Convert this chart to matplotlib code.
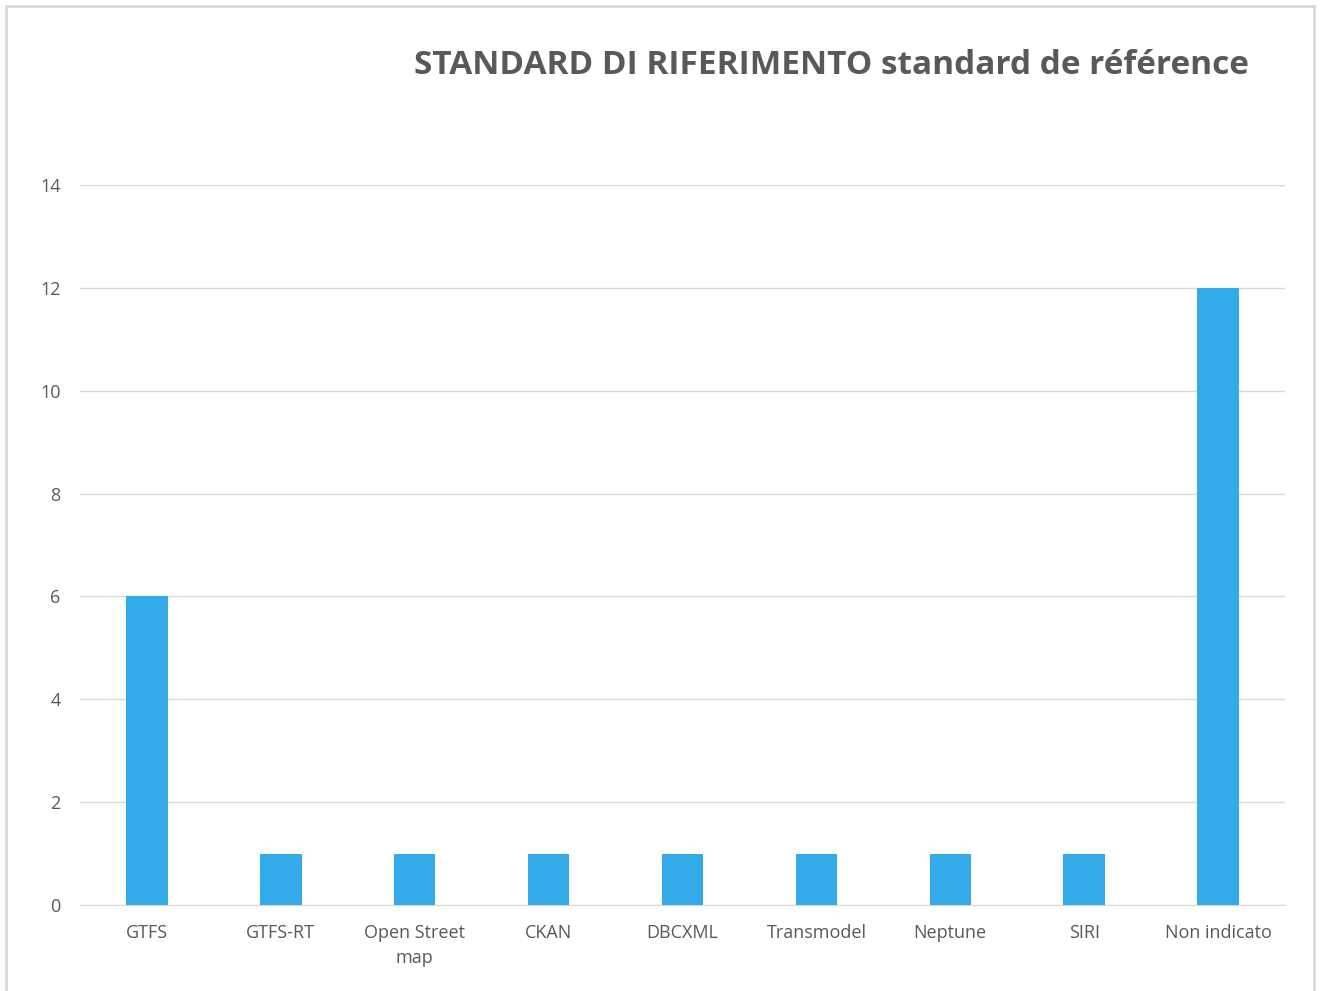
import matplotlib
matplotlib.use("Agg")
import matplotlib.pyplot as plt
from matplotlib.lines import Line2D

categories = ["GTFS", "GTFS-RT", "Open Street\nmap", "CKAN", "DBCXML",
              "Transmodel", "Neptune", "SIRI", "Non indicato"]
values = [6, 1, 1, 1, 1, 1, 1, 1, 12]
yticks = [0, 2, 4, 6, 8, 10, 12, 14]

plt.rcParams['font.family'] = ['Open Sans', 'DejaVu Sans']
txt = '#595959'

fig = plt.figure(figsize=(13.2, 9.91), dpi=100)
ax = fig.add_axes([0.0606, 0.0868, 0.9129, 0.7265])

ax.bar(range(len(categories)), values, width=0.31, color='#32ABE8', zorder=3)
ax.set_xlim(-0.5, len(categories) - 0.5)
ax.set_ylim(0, 14)
ax.set_yticks(yticks)
ax.set_xticks(range(len(categories)))
ax.set_xticklabels(categories, fontsize=13, color=txt, linespacing=1.45)
ax.tick_params(axis='y', labelsize=13, labelcolor=txt, length=0, pad=14)
ax.tick_params(axis='x', length=0, pad=14)
ax.grid(axis='y', color='#D9D9D9', linewidth=1, zorder=0)
for s in ['top', 'right', 'left']:
    ax.spines[s].set_visible(False)
ax.spines['bottom'].set_color('#D9D9D9')

fig.text(0.6295, 0.934, "STANDARD DI RIFERIMENTO standard de référence",
         ha='center', va='center', fontsize=24, fontweight='bold', color=txt)

# outer frame of the chart area
x0, x1, y0 = 6 / 1320, 1314 / 1320, 1 - 6 / 991
for xs, ys in [([x0, x0], [0, y0]), ([x0, x1], [y0, y0]), ([x1, x1], [y0, 0])]:
    fig.add_artist(Line2D(xs, ys, color='#D9D9D9', linewidth=2, transform=fig.transFigure))

fig.savefig("out.png", dpi=100, facecolor='white')
